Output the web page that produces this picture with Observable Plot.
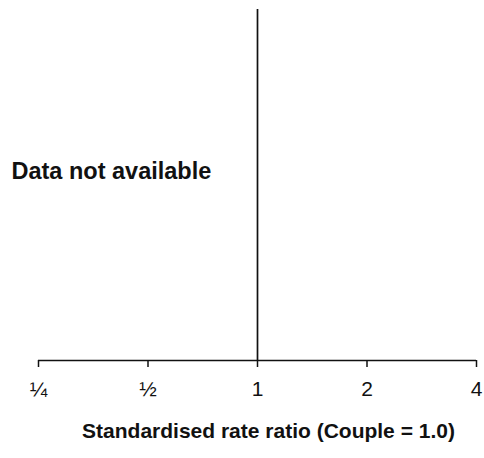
<!DOCTYPE html>
<html>
<head>
<meta charset="utf-8">
<script src="https://cdn.jsdelivr.net/npm/d3@7"></script>
<script src="https://cdn.jsdelivr.net/npm/@observablehq/plot@0.6"></script>
<style>
  html, body { margin: 0; padding: 0; background: #fff; }
  svg { display: block; }
</style>
</head>
<body>
<div id="chart"></div>
<script>
const tickValues = [0.25, 0.5, 1, 2, 4];
const tickLabels = ["¼", "½", "1", "2", "4"];
const referenceValue = [1];
const message = ["Data not available"];
const axisTitle = ["Standardised rate ratio (Couple = 1.0)"];

const chart = Plot.plot({
  width: 484,
  height: 458,
  marginLeft: 38,
  marginRight: 8,
  marginTop: 9,
  marginBottom: 98,
  style: { fontFamily: "'Liberation Sans', Arial, sans-serif", background: "#fff", color: "#111" },
  x: { type: "log", domain: [0.25, 4], axis: null },
  y: { domain: [0, 1], axis: null },
  marks: [
    Plot.ruleY([0], { stroke: "#111", strokeWidth: 1.5 }),
    Plot.axisX({
      ticks: tickValues,
      tickFormat: (d) => tickLabels[tickValues.indexOf(d)],
      tickSize: 7,
      tickPadding: 14,
      stroke: "#111",
      strokeWidth: 1.5,
      fontSize: 21,
      fill: "#111",
      textAnchor: "middle",
      label: null
    }),
    Plot.ruleX(referenceValue, { x: d => d, y1: 0, y2: 1, stroke: "#111", strokeWidth: 1.7 }),
    Plot.text(message, {
      text: d => d,
      frameAnchor: "left",
      dx: -27,
      dy: -14,
      textAnchor: "start",
      fontSize: 23.5,
      fontWeight: "bold",
      fill: "#111"
    }),
    Plot.text(axisTitle, {
      text: d => d,
      frameAnchor: "bottom",
      dx: 11,
      dy: 77,
      fontSize: 21,
      fontWeight: "bold",
      fill: "#111"
    })
  ]
});
document.getElementById("chart").appendChild(chart);
</script>
</body>
</html>
